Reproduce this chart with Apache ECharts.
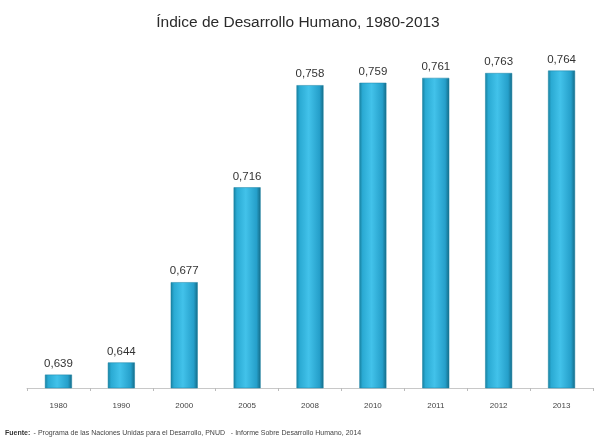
<!DOCTYPE html>
<html><head><meta charset="utf-8">
<script src="https://cdn.jsdelivr.net/npm/echarts@6/dist/echarts.min.js"></script>
<style>html,body{margin:0;padding:0;background:#fff}#c{width:596px;height:444px}</style>
</head><body><div id="c"></div>
<script>
const titleText = 'Índice de Desarrollo Humano, 1980-2013';
const categories = ['1980','1990','2000','2005','2008','2010','2011','2012','2013'];
const values = [0.639,0.644,0.677,0.716,0.758,0.759,0.761,0.763,0.764];
const sourceText = '- Programa de las Naciones Unidas para el Desarrollo, PNUD   - Informe Sobre Desarrollo Humano, 2014';

const chart = echarts.init(document.getElementById('c'));
const font = '"Liberation Sans", Arial, sans-serif';
chart.setOption({
  backgroundColor: '#fff',
  animation: false,
  title: { text: titleText, left: 'center', top: 10,
    textStyle: { fontFamily: font, fontSize: 15.5, fontWeight: 'normal', color: '#2a2a2a' } },
  grid: { left: 27, right: 3, top: 56, bottom: 56 },
  xAxis: { type: 'category', data: categories,
    axisLine: { lineStyle: { color: '#c8c8c8' } },
    axisTick: { show: true, length: 3, lineStyle: { color: '#bbb' } },
    axisLabel: { fontFamily: font, fontSize: 8, color: '#444', margin: 14 } },
  yAxis: { type: 'value', min: 0.6335, max: 0.77, show: false, splitLine: { show: false } },
  series: [{
    type: 'bar', data: values, barWidth: 27,
    itemStyle: {
      color: new echarts.graphic.LinearGradient(0,0,1,0,[
        {offset:0,color:'#17809f'},{offset:0.12,color:'#2aaad3'},
        {offset:0.45,color:'#42c2ea'},{offset:0.85,color:'#259fca'},{offset:1,color:'#146a86'}]),
      borderColor: '#1a82a4', borderWidth: 0.5
    },
    label: { show: true, position: 'top', distance: 5, fontFamily: font, fontSize: 11.5, color: '#333',
      formatter: p => p.value.toFixed(3).replace('.', ',') }
  }],
  graphic: [{ type: 'text', left: 5, top: 427,
    style: { rich: { b: { fontWeight: 'bold', fontSize: 7, fontFamily: font, fill: '#333' },
      n: { fontSize: 7, fontFamily: font, fill: '#444' } },
      text: '{b|Fuente:} {n|' + sourceText + '}' } }]
});
</script></body></html>
